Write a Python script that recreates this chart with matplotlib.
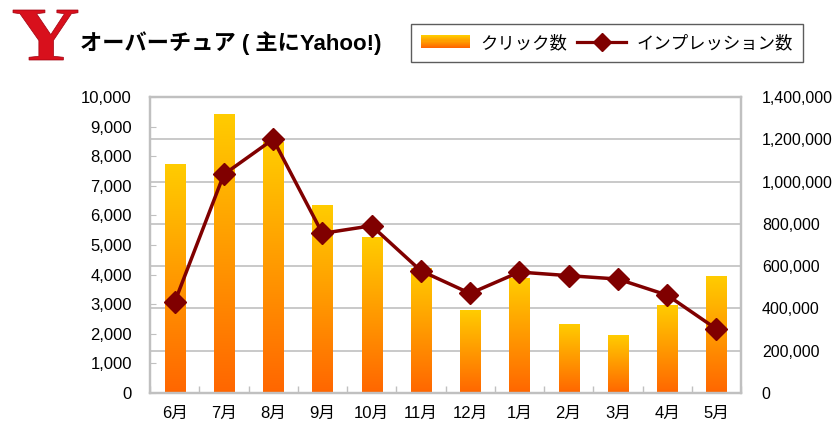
import matplotlib
matplotlib.use("Agg")
import matplotlib.pyplot as plt
import numpy as np
from matplotlib.legend_handler import HandlerBase
from matplotlib.patches import Rectangle, PathPatch
from matplotlib.lines import Line2D
from matplotlib.colors import LinearSegmentedColormap, to_rgb
from matplotlib.ticker import FuncFormatter
from matplotlib.textpath import TextPath
from matplotlib.font_manager import FontProperties
from matplotlib.transforms import Affine2D

months = ["6月", "7月", "8月", "9月", "10月", "11月", "12月", "1月", "2月", "3月", "4月", "5月"]
clicks = [7730, 9420, 8460, 6340, 5260, 4210, 2800, 3870, 2310, 1950, 2970, 3930]
impressions = [429000, 1034000, 1200000, 755000, 791000, 578000, 471000, 572000, 555000, 539000, 463000, 303000]
left_ticks = list(range(0, 10001, 1000))
right_ticks = list(range(0, 1400001, 200000))
title_text = "オーバーチュア ( 主にYahoo!)"
legend_labels = ["クリック数", "インプレッション数"]

YELLOW = "#FFCC00"
ORANGE = "#FF6600"
LINE_C = "#800000"
GRID_C = "#C0C0C0"

cmap = LinearSegmentedColormap.from_list("g", [ORANGE, "#FF9900", YELLOW])

fig = plt.figure(figsize=(8.39, 4.30), dpi=100)
ax = fig.add_axes([150/839, 37/430, 591/839, 296/430])
latin = ["Liberation Sans", "Noto Sans CJK JP"]

x = np.arange(len(months))
bars = ax.bar(x, clicks, width=0.41, color="none", edgecolor="none", zorder=2)
grad = np.linspace(0, 1, 256).reshape(-1, 1)
for b in bars:
    x0, w, h = b.get_x(), b.get_width(), b.get_height()
    ax.imshow(grad, cmap=cmap, aspect="auto", origin="lower",
              extent=[x0, x0 + w, 0, h], zorder=2, interpolation="bilinear")

ax.set_xlim(-0.5, len(months) - 0.5)
ax.set_ylim(0, 10000)
ax.set_yticks(left_ticks)
ax.yaxis.set_major_formatter(FuncFormatter(lambda v, p: f"{int(v):,}"))
# gridlines aligned with the right-axis ticks
ax.set_yticks(np.linspace(0, 10000, len(right_ticks)), minor=True)
ax.grid(True, which="minor", axis="y", color=GRID_C, linewidth=1.2, zorder=1)
ax.set_axisbelow(True)
ax.tick_params(axis="y", which="minor", length=0)
ax.tick_params(axis="y", which="major", direction="in", length=4, color=GRID_C,
               pad=13, labelsize=12)
ax.set_xticks(x)
ax.set_xticklabels(months, fontfamily=latin)
ax.set_xticks(np.arange(-0.5, len(months)), minor=True)
ax.tick_params(axis="x", which="major", length=0, pad=9, labelsize=12)
ax.tick_params(axis="x", which="minor", direction="in", length=5, color=GRID_C, width=1)
for lab in ax.get_yticklabels():
    lab.set_fontfamily(latin)
for s in ax.spines.values():
    s.set_color(GRID_C)
    s.set_linewidth(1.6)

ax2 = ax.twinx()
ax2.plot(x, impressions, color=LINE_C, linewidth=2.5, marker="D", markersize=11,
         markerfacecolor=LINE_C, markeredgecolor=LINE_C, zorder=5)
ax2.set_ylim(0, 1400000)
ax2.set_yticks(right_ticks)
ax2.yaxis.set_major_formatter(FuncFormatter(lambda v, p: f"{int(v):,}"))
ax2.tick_params(axis="y", length=0, pad=15, labelsize=11.5)
for lab in ax2.get_yticklabels():
    lab.set_fontfamily(latin)
for s in ax2.spines.values():
    s.set_color(GRID_C)
    s.set_linewidth(1.6)


class GradHandler(HandlerBase):
    def create_artists(self, legend, orig_handle, xdescent, ydescent, width, height, fontsize, trans):
        arts = []
        n = 12
        c0 = np.array(to_rgb(YELLOW))
        c1 = np.array(to_rgb(ORANGE))
        hh = height * 1.0
        y0 = -ydescent + (height - hh) / 2
        for i in range(n):
            t = i / (n - 1)
            c = c0 * (1 - t) + c1 * t
            r = Rectangle((-xdescent, y0 + hh - (i + 1) * hh / n), width, hh / n + 0.3,
                          facecolor=c, edgecolor="none", transform=trans)
            arts.append(r)
        return arts


bar_handle = Rectangle((0, 0), 1, 1)
line_handle = Line2D([], [], color=LINE_C, linewidth=2.3, marker="D", markersize=9,
                     markerfacecolor=LINE_C, markeredgecolor=LINE_C)
leg = fig.legend([bar_handle, line_handle], legend_labels,
                 handler_map={Rectangle: GradHandler()},
                 loc="center", bbox_to_anchor=(607/839, 1 - 43/430), ncol=2,
                 prop={"family": ["Noto Sans CJK JP"], "size": 12.5},
                 frameon=True, fancybox=False, edgecolor="#333333",
                 handlelength=2.8, handletextpad=0.6, columnspacing=0.6,
                 borderpad=0.6, borderaxespad=0)
leg.get_frame().set_linewidth(1.0)

# red "Y" logo, stretched horizontally
fp = FontProperties(family="Liberation Serif", weight="bold")
tp = TextPath((0, 0), "Y", size=72, prop=fp)
ext = tp.get_extents()
sx = 65 / ext.width
sy = 50 / ext.height
tr = Affine2D().translate(-ext.x0, -ext.y0).scale(sx, sy).translate(13, 430 - 60)
fig.add_artist(PathPatch(tr.transform_path(tp), facecolor="#D8101C", edgecolor="#A00010",
                         linewidth=0.5, transform=None))

fig.text(80/839, 1 - 43/430, title_text, fontfamily=latin, fontweight="bold",
         fontsize=16, color="black", ha="left", va="center")

fig.savefig("out.png", dpi=100)
